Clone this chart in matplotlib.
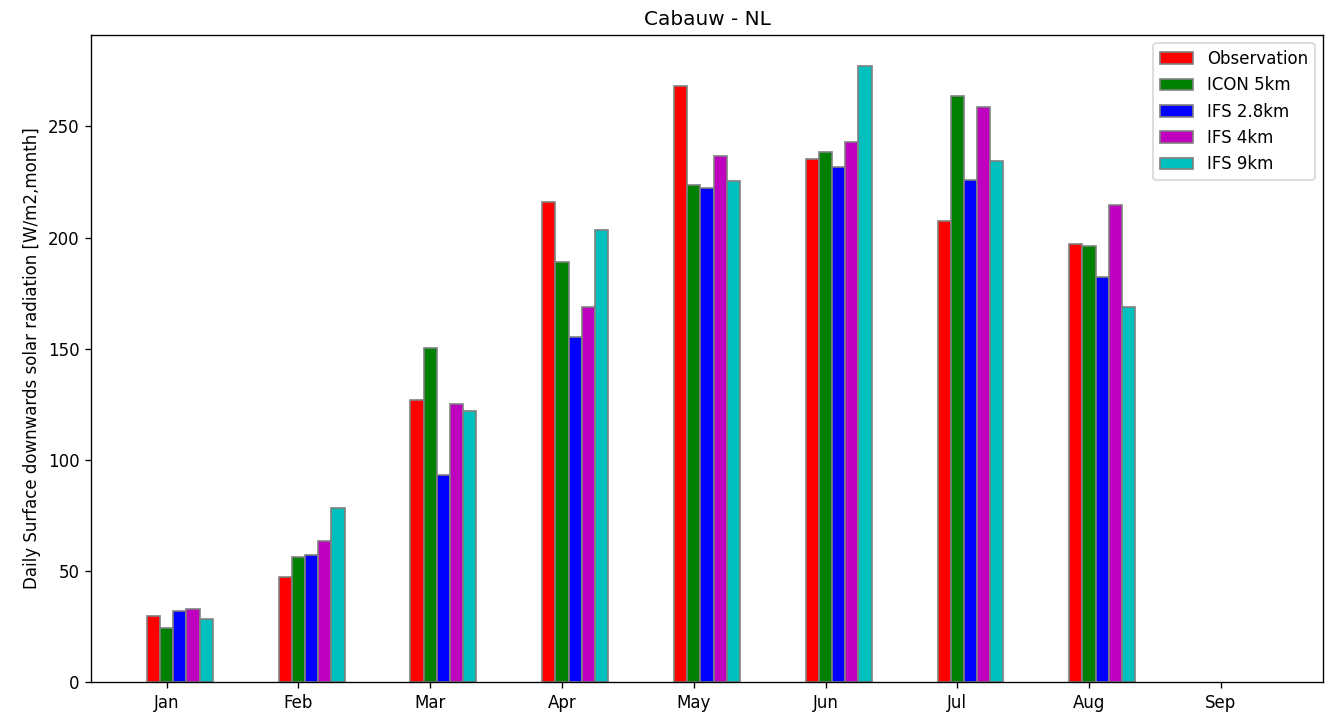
import numpy as np
import matplotlib
matplotlib.use('Agg')
import matplotlib.pyplot as plt

months = ['Jan', 'Feb', 'Mar', 'Apr', 'May', 'Jun', 'Jul', 'Aug', 'Sep']

# monthly mean of daily surface downward solar radiation, Jan-Aug
observation = [29.8, 47.4, 126.8, 216.0, 268.0, 235.2, 207.4, 197.2]
icon_5km    = [24.4, 56.4, 150.3, 189.0, 223.5, 238.3, 263.6, 196.3]
ifs_2p8km   = [31.9, 57.1,  93.1, 155.1, 222.4, 231.9, 225.9, 182.2]
ifs_4km     = [32.7, 63.5, 125.3, 168.8, 236.6, 242.8, 258.7, 214.6]
ifs_9km     = [28.3, 78.1, 121.9, 203.2, 225.3, 277.3, 234.4, 168.7]

series = [observation, icon_5km, ifs_2p8km, ifs_4km, ifs_9km]
labels = ['Observation', 'ICON 5km', 'IFS 2.8km', 'IFS 4km', 'IFS 9km']
colors = ['r', 'g', 'b', 'm', 'c']

DPI = 120
fig = plt.figure(figsize=(1328 / DPI, 712 / DPI), dpi=DPI)
ax = fig.add_axes([0.0685, 0.042, 0.9277, 0.909])

width = 0.1
x = np.arange(len(observation))
for i, (vals, lab, col) in enumerate(zip(series, labels, colors)):
    ax.bar(x + (i - 1) * width, vals, width, color=col, edgecolor='grey',
           label=lab)

# Sep has no data yet, but keep room for its (empty) group
lo = -1.5 * width
hi = len(months) - 1 + 3.5 * width
pad = 0.05 * (hi - lo)
ax.set_xlim(lo - pad, hi + pad)
ax.set_xticks(np.arange(len(months)))
ax.set_xticklabels(months)
ax.set_ylabel('Daily Surface downwards solar radiation [W/m2,month]')
ax.set_title('Cabauw - NL')
ax.legend(loc='upper right')

fig.savefig('out.png', dpi=DPI)
